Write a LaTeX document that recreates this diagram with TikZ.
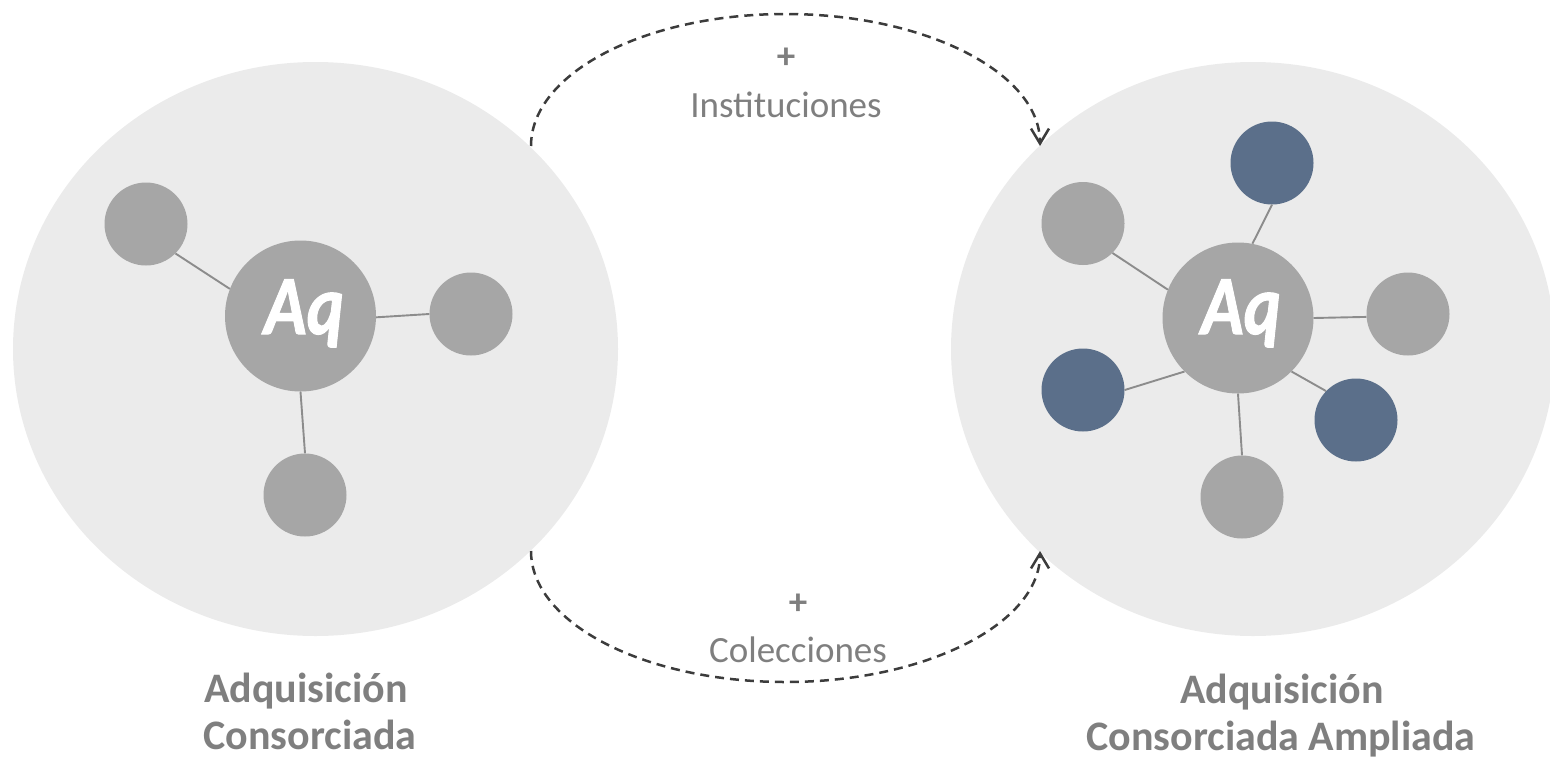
\documentclass[tikz,border=0pt]{standalone}
\usepackage{fontspec}
\setmainfont{Carlito}
\newfontfamily\aqfont[FakeBold=1.3]{Carlito Bold Italic}
\usetikzlibrary{arrows.meta,shapes.geometric}
\definecolor{bigbg}{HTML}{EBEBEB}
\definecolor{dotgray}{HTML}{A6A6A6}
\definecolor{dotblue}{HTML}{5B6F8A}
\definecolor{linkgray}{HTML}{8C8C8C}
\definecolor{txtgray}{HTML}{7F7F7F}
\definecolor{arrowdark}{HTML}{3C3C3C}
\begin{document}
\begin{tikzpicture}[x=1pt,y=-1pt,
  bigcircle/.style={ellipse, fill=bigbg, draw=none, inner sep=0pt},
  hub/.style={circle, fill=dotgray, minimum size=151pt, inner sep=0pt},
  sat/.style={circle, fill=dotgray, minimum size=83pt, inner sep=0pt},
  satnew/.style={sat, fill=dotblue},
  link/.style={draw=linkgray, line width=1.9pt},
  flow/.style={draw=arrowdark, line width=2.5pt, dash pattern=on 9pt off 6pt,
    -{Straight Barb[length=15pt,width=18pt]}},
  note/.style={text=txtgray, font=\fontsize{37}{44}\selectfont, anchor=base, inner sep=0pt},
  plus/.style={text=txtgray, font=\fontsize{37}{44}\selectfont\bfseries, inner sep=0pt},
  caption/.style={text=txtgray, font=\fontsize{42}{48}\selectfont\bfseries, anchor=base, inner sep=0pt},
  aqtext/.style={text=white, font=\fontsize{84}{90}\selectfont\aqfont, anchor=base, inner sep=0pt}
]
\path[use as bounding box] (0,0) rectangle (1550,758);
\clip (0,0) rectangle (1550,758);

% big backgrounds
\node[bigcircle, minimum width=605pt, minimum height=574pt] (bigL) at (315.5,349) {};
\node[bigcircle, minimum width=604pt, minimum height=574pt] (bigR) at (1253,349) {};

% left group
\node[hub] (LA) at (300.5,316) {};
\node[aqtext] (LAt) at (304,334) {\scalebox{0.84}[1]{Aq}};
\node[sat] (L1) at (146,224) {};
\node[sat] (L2) at (471,314) {};
\node[sat] (L3) at (305,495) {};
\draw[link] (LA.159) -- (L1.-45);
\draw[link] (LA.-1.5) -- (L2.180);
\draw[link] (LA.-90) -- (L3.90);

% right group
\node[hub] (RA) at (1238,318) {};
\node[aqtext] (RAt) at (1241,334) {\scalebox{0.84}[1]{Aq}};
\node[sat] (R1) at (1083,223.5) {};
\node[satnew] (R2) at (1272,163) {};
\node[sat] (R3) at (1408,314) {};
\node[satnew] (R4) at (1356,420) {};
\node[sat] (R5) at (1242,497) {};
\node[satnew] (R6) at (1083,390) {};
\draw[link] (RA.158) -- (R1.-45);
\draw[link] (RA.79) -- (R2.-90);
\draw[link] (RA.0) -- (R3.184);
\draw[link] (RA.-45) -- (R4.136);
\draw[link] (RA.-135) -- (R6.0);
\draw[link] (RA.-90) -- (R5.90);

% flows
\coordinate (topstart) at (531,146);
\coordinate (botstart) at (531,551);
\draw[flow] (topstart) arc[start angle=180, end angle=360, x radius=254.5, y radius=132];
\draw[flow] (botstart) arc[start angle=180, end angle=0, x radius=254.5, y radius=131];

\node[plus] (p1) at (786,58) {+};
\node[note] (inst) at (786,117) {Instituciones};
\node[plus] (p2) at (798,604) {+};
\node[note] (col) at (798,662) {Colecciones};

% captions
\node[caption] (cl1) at (306,702) {Adquisición};
\node[caption] (cl2) at (310,749) {Consorciada};
\node[caption] (cr1) at (1282,703) {Adquisición};
\node[caption] (cr2) at (1281,750) {Consorciada Ampliada};
\end{tikzpicture}
\end{document}
